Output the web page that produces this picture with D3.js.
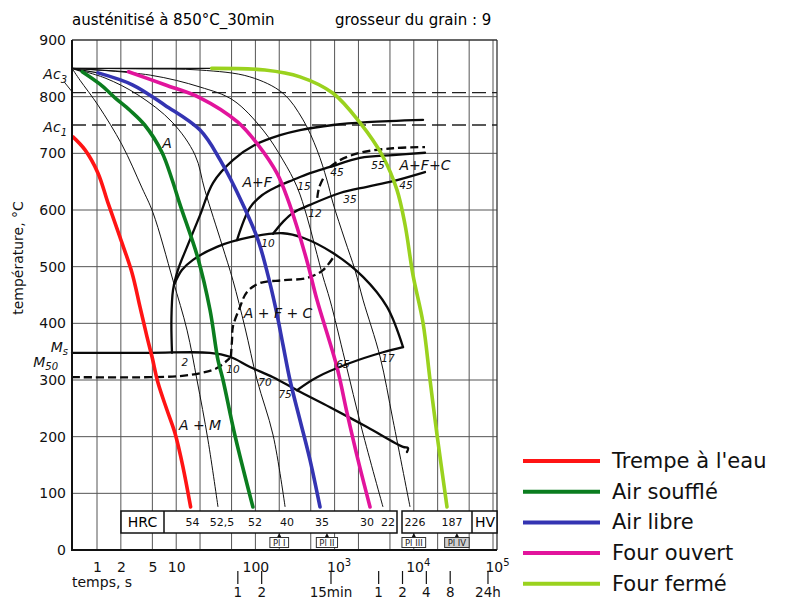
<!DOCTYPE html>
<html>
<head>
<meta charset="utf-8">
<script src="https://cdn.jsdelivr.net/npm/d3@7"></script>
<style>
body { margin: 0; background: #fff; }
svg { display: block; font-family: "DejaVu Sans", sans-serif; }
</style>
</head>
<body>
<div id="canvas"></div>
<script>
var W = 785, H = 601;

// ---- data (time in s, temperature in °C) ----
var START = [0.4834, 850];               // austenitised at 850 °C
var xGrid = [1, 2, 5, 10, 20, 50, 100, 200, 500, 1000, 2000, 5000, 10000, 20000, 50000, 100000];
var yGrid = [100, 200, 300, 400, 500, 600, 700, 800];
var yTicks = [0, 100, 200, 300, 400, 500, 600, 700, 800, 900];
var xTickValues = [1, 2, 5, 10, 100, 1000, 10000, 100000];
var xTickText = ['1', '2', '5', '10', '100', '10^3', '10^4', '10^5'];
var hourTimes = [60, 120, 900, 3600, 7200, 14400, 28800, 86400];
var hourText = ['1', '2', '15min', '1', '2', '4', '8', '24h'];
var acTemps = [807, 750];
var acNames = ['3', '1'];

// coloured cooling curves
var redCurve = [[0.497,729],[0.706,706],[1.03,665],[1.38,612],[1.95,552],[2.77,489],[3.49,429],[4.28,376],[4.95,341],[5.89,295],[7.65,247],[9.66,206],[12.2,146],[15.2,76]];
var greenCurve = [[0.65,844],[1.09,822],[1.69,798],[2.6,776],[4.0,750],[6.6,702],[8.9,653],[11.2,609],[18.8,515],[26.7,424],[33.7,335],[39,300],[55,203],[93,76]];
var blueCurve = [[1.03,842],[2.8,821],[7.2,785],[20,741],[36,688],[70,609],[108,547],[144,485],[182,424],[223,362],[273,300],[366,229],[489,159],[654,76]];
var pinkCurve = [[2.5,844],[7.2,821],[20,798],[60,755],[108,715],[187,665],[258,618],[335,570],[462,503],[600,441],[1070,323],[1435,242],[1975,159],[2800,76]];
var limeCurve = [[28,850],[132,847],[366,835],[955,806],[2090,754],[4080,694],[6140,635],[7750,574],[9770,485],[13070,401],[16030,300],[19650,203],[26250,76]];

// thin black cooling curves
var thinA = [[0.4834,850],[0.61,829],[1.03,785],[2.07,715],[3.7,639],[5.1,595],[9.1,476],[13.7,388],[18.3,300],[25.2,194],[33.7,76]];
var thinB = [[0.4834,850],[1.26,833],[3.3,803],[8.9,755],[17.3,697],[23,635],[38,538],[52,476],[74,392],[105,300],[167,203],[237,76]];
var thinC = [[0.4834,850],[4.7,838],[20,817],[52,794],[125,741],[223,688],[335,641],[448,588],[566,535],[714,482],[875,441],[1350,335],[2220,212],[4080,76]];
var thinD = [[0.4834,850],[3.5,849],[20,847],[85,835],[223,806],[400,759],[600,706],[800,653],[955,612],[1350,547],[1810,494],[2290,441],[3750,341],[5460,229],[8960,76]];

// transformation lines
var ferriteLine = [[8.85,348],[8.7,406],[9.12,459],[10.5,494],[13.7,535],[20,591],[29.2,648],[52,688],[99,715],[205,732],[366,741],[955,750],[2565,755],[13070,759]];
var bigArc = [[9.4,468],[11.8,494],[16.3,512],[32.7,535],[85.5,552],[223,559],[399,551],[955,524],[2285,482],[4590,429],[7310,358]];
var returnLine = [[7310,358],[4080,349],[1564,330],[600,305],[335,282]];
var msLine = [[0.4834,348],[4.67,348],[26.7,348],[47.8,341],[85.5,323],[167,305],[335,282],[875,252],[2565,217],[7310,182],[8450,180],[8200,173]];
var line15 = [[58.6,547],[85.5,604],[121,626],[187,641],[298,653],[489,665],[875,676],[2094,692],[5460,697],[13840,701]];
var line12 = [[167,558],[223,579],[298,595],[489,609],[1170,630],[2565,641],[5460,651],[13840,667]];
var m50Line = [[0.4834,305],[4.67,305],[11.2,307],[20,312],[32.7,321],[47.8,339]];
var bainiteLine = [[49,341],[50.7,371],[52,394],[64,429],[78,455],[114,471],[223,476],[448,480],[714,494],[1012,521]];
var topDashed = [[875,676],[1170,688],[2094,701],[5460,709],[13840,711]];
var smallDashed = [[714,655],[635,639],[600,618]];

// labels
var regionLabels = [['A',7.65,718],['A+F',105,649],['A+F+C',13840,679],['A + F + C',193,418],['A + M',20,221]];
var numLabels = [['2',12.9,332],['10',52,319],['70',132,296],['75',237,274],['65',1277,328],['17',4720,339],
                 ['10',144,542],['12',566,595],['15',411,642],['45',1072,667],['55',3530,679],['35',1564,618],['45',7980,644]];
var hardness = ['54', '52,5', '52', '40', '35', '30', '22', '226', '187'];
var hardnessDx = [2, 4, 2, 2, 2, -3, 5, 5, 5];
var plTimes = [200, 800, 10000, 35000];
var plText = ['Pl I', 'Pl II', 'Pl III', 'Pl IV'];

var legendNames = ["Trempe à l'eau", 'Air soufflé', 'Air libre', 'Four ouvert', 'Four fermé'];
var legendColors = ['#ff1414', '#0b7d1f', '#3434b2', '#e2149c', '#9ad21e'];

// ---- drawing ----
var svg = d3.select('#canvas').append('svg').attr('width', W).attr('height', H);
var x = d3.scaleLog().domain([0.4834, 112300]).range([72, 497]);
var y = d3.scaleLinear().domain([0, 900]).range([550, 40]);

var cool = d3.line().x(function(d) { return x(d[0]); }).y(function(d) { return y(d[1]); }).curve(d3.curveCatmullRom.alpha(0.5));
var smooth = cool;

// titles
svg.append('text').attr('x', 72).attr('y', 25).style('font-size', '15px').text('austénitisé à 850°C_30min');
svg.append('text').attr('x', 335).attr('y', 25).style('font-size', '15px').text('grosseur du grain : 9');

// grid
var grid = svg.append('g');
grid.selectAll('.vg').data(xGrid).enter().append('line')
    .attr('x1', function(d) { return x(d); }).attr('x2', function(d) { return x(d); })
    .attr('y1', y(0)).attr('y2', y(900))
    .attr('stroke', '#555').attr('stroke-width', 1);
grid.selectAll('.hg').data(yGrid).enter().append('line')
    .attr('x1', x.range()[0]).attr('x2', x.range()[1])
    .attr('y1', function(d) { return y(d); }).attr('y2', function(d) { return y(d); })
    .attr('stroke', '#555').attr('stroke-width', 1);
grid.append('line').attr('x1', 72).attr('x2', 497).attr('y1', y(900)).attr('y2', y(900)).attr('stroke', '#333').attr('stroke-width', 1.3);
grid.append('line').attr('x1', 497).attr('x2', 497).attr('y1', y(900)).attr('y2', y(0)).attr('stroke', '#333').attr('stroke-width', 1.3);

// Ac lines
grid.selectAll('.ac').data(acTemps).enter().append('line')
    .attr('x1', 72).attr('x2', 497)
    .attr('y1', function(d) { return y(d); }).attr('y2', function(d) { return y(d); })
    .attr('stroke', '#222').attr('stroke-width', 1.3).attr('stroke-dasharray', '14,6');

// y axis
var yAxis = svg.append('g').attr('transform', 'translate(72,0)')
    .call(d3.axisLeft(y).tickValues(yTicks).tickSize(0).tickPadding(6));
yAxis.select('.domain').remove();
yAxis.selectAll('text').style('font-size', '14px').style('font-family', '"DejaVu Sans", sans-serif').attr('fill', '#111');

// x axis labels
var xAxis = svg.append('g').attr('transform', 'translate(0,558)')
    .call(d3.axisBottom(x).tickValues(xTickValues).tickSize(0).tickPadding(0).tickFormat(function() { return ''; }));
xAxis.select('.domain').remove();
xAxis.selectAll('.tick text').each(function(d, i) {
    var parts = xTickText[i].split('^');
    var t = d3.select(this).style('font-size', '14px').style('font-family', '"DejaVu Sans", sans-serif')
        .attr('fill', '#111').attr('dy', '1em');
    t.append('tspan').text(parts[0]);
    if (parts.length > 1) {
        t.attr('dx', '4');
        t.append('tspan').attr('dy', '-6').style('font-size', '10px').text(parts[1]);
    }
});
svg.append('text').attr('x', 72).attr('y', 587).style('font-size', '14px').attr('fill', '#111').text('temps, s');

// hour / minute row
var hours = svg.append('g');
hours.selectAll('line').data(hourTimes).enter().append('line')
    .attr('x1', function(d) { return x(d); }).attr('x2', function(d) { return x(d); })
    .attr('y1', 571).attr('y2', 584).attr('stroke', '#111').attr('stroke-width', 1.2);
hours.selectAll('text').data(hourTimes).enter().append('text')
    .attr('x', function(d) { return x(d); }).attr('y', 597)
    .attr('text-anchor', 'middle').style('font-size', '13.5px').attr('fill', '#111')
    .text(function(d, i) { return hourText[i]; });

// y axis title and special temperatures
svg.append('text').attr('transform', 'translate(23,258) rotate(-90)').attr('text-anchor', 'middle')
    .style('font-size', '14px').attr('fill', '#111').text('température, °C');
svg.selectAll('.acl').data(acTemps).enter().append('text')
    .attr('x', 67).attr('y', function(d, i) { return y(d) - (i == 0 ? 14 : -7); })
    .attr('text-anchor', 'end').style('font-size', '14px').style('font-style', 'italic').attr('fill', '#111')
    .each(function(d, i) {
        d3.select(this).append('tspan').text('Ac');
        d3.select(this).append('tspan').attr('dy', 4).style('font-size', '10px').text(acNames[i]);
    });
svg.append('line').attr('x1', 64).attr('y1', y(acTemps[0]) - 11).attr('x2', 72).attr('y2', y(acTemps[0]) - 1)
    .attr('stroke', '#222').attr('stroke-width', 1);
var msLab = svg.append('text').attr('x', 68).attr('y', y(msLine[0][1]) - 1).attr('text-anchor', 'end')
    .style('font-size', '14px').style('font-style', 'italic').attr('fill', '#111');
msLab.append('tspan').text('M');
msLab.append('tspan').attr('dy', 3).style('font-size', '10px').text('s');
var m50Lab = svg.append('text').attr('x', 58).attr('y', y(m50Line[0][1]) - 10).attr('text-anchor', 'end')
    .style('font-size', '14px').style('font-style', 'italic').attr('fill', '#111');
m50Lab.append('tspan').text('M');
m50Lab.append('tspan').attr('dy', 3).style('font-size', '10px').text('50');

// thin cooling curves
var curves = svg.append('g');
[thinA, thinB, thinC, thinD].forEach(function(c) {
    curves.append('path').attr('d', cool(c)).attr('fill', 'none').attr('stroke', '#111').attr('stroke-width', 1);
});
var colored = [redCurve, greenCurve, blueCurve, pinkCurve, limeCurve];
colored.slice(1).forEach(function(c) {
    curves.append('path').attr('d', cool([START, c[0]])).attr('fill', 'none').attr('stroke', '#111').attr('stroke-width', 1.2);
});

// transformation lines
var trans = svg.append('g').attr('fill', 'none').attr('stroke', '#0a0a0a').attr('stroke-width', 2.3)
    .attr('stroke-linejoin', 'round').attr('stroke-linecap', 'round');
[ferriteLine, bigArc, returnLine, msLine, line15, line12].forEach(function(c) {
    trans.append('path').attr('d', smooth(c));
});
[m50Line, bainiteLine, topDashed, smallDashed].forEach(function(c) {
    trans.append('path').attr('d', smooth(c)).attr('stroke-dasharray', '8,4').attr('stroke-linecap', 'butt');
});

// coloured curves
colored.forEach(function(c, i) {
    svg.append('path').attr('d', cool(c)).attr('fill', 'none').attr('stroke', legendColors[i])
        .attr('stroke-width', 3.6).attr('stroke-linecap', 'round');
});

// labels
svg.selectAll('.rl').data(regionLabels).enter().append('text')
    .attr('x', function(d) { return x(d[1]); }).attr('y', function(d) { return y(d[2]); })
    .attr('dy', '0.35em').attr('text-anchor', 'middle')
    .style('font-size', '14px').style('font-style', 'italic').attr('fill', '#111')
    .text(function(d) { return d[0]; });
svg.selectAll('.nl').data(numLabels).enter().append('text')
    .attr('x', function(d) { return x(d[1]); }).attr('y', function(d) { return y(d[2]); })
    .attr('dy', '0.35em').attr('text-anchor', 'middle')
    .style('font-size', '10.5px').style('font-style', 'italic').attr('fill', '#111')
    .text(function(d) { return d[0]; });

// hardness boxes
var box = svg.append('g');
box.append('rect').attr('x', 121).attr('y', 511).attr('width', 276).attr('height', 22)
    .attr('fill', '#fff').attr('stroke', '#111').attr('stroke-width', 1.5);
box.append('line').attr('x1', 164).attr('x2', 164).attr('y1', 511).attr('y2', 533).attr('stroke', '#111').attr('stroke-width', 1.5);
box.append('rect').attr('x', 402).attr('y', 511).attr('width', 95).attr('height', 22)
    .attr('fill', '#fff').attr('stroke', '#111').attr('stroke-width', 1.5);
box.append('line').attr('x1', 472).attr('x2', 472).attr('y1', 511).attr('y2', 533).attr('stroke', '#111').attr('stroke-width', 1.5);
box.append('text').attr('x', 142.5).attr('y', 527).attr('text-anchor', 'middle').style('font-size', '14px').text('HRC');
box.append('text').attr('x', 485).attr('y', 527).attr('text-anchor', 'middle').style('font-size', '14px').text('HV');
var ends = [redCurve, thinA, greenCurve, thinB, blueCurve, pinkCurve, thinC, thinD, limeCurve];
box.selectAll('.hv').data(ends).enter().append('text')
    .attr('x', function(d, i) { return x(d[d.length - 1][0]) + hardnessDx[i]; }).attr('y', 526)
    .attr('text-anchor', 'middle').style('font-size', '11px').attr('fill', '#111')
    .text(function(d, i) { return hardness[i]; });

// Pl marks
var pl = svg.append('g');
plTimes.forEach(function(t, i) {
    var px = x(t);
    var txt = pl.append('text').attr('x', px).attr('y', 545.5).attr('text-anchor', 'middle')
        .style('font-size', '8.5px').attr('fill', '#222').text(plText[i]);
    var w = txt.node().getComputedTextLength() + 6;
    pl.insert('rect', 'text').attr('x', px - w / 2).attr('y', 537.5).attr('width', w).attr('height', 10)
        .attr('fill', i == 3 ? '#d0d0d0' : '#fff').attr('stroke', '#333').attr('stroke-width', 1);
    pl.append('path').attr('d', 'M' + (px - 2) + ',537 L' + (px + 2) + ',537 L' + px + ',533 Z').attr('fill', '#111');
});

// frame left / bottom
svg.append('line').attr('x1', 72).attr('x2', 72).attr('y1', y(900)).attr('y2', y(0)).attr('stroke', '#111').attr('stroke-width', 2);
svg.append('line').attr('x1', 71).attr('x2', 497).attr('y1', y(0)).attr('y2', y(0)).attr('stroke', '#111').attr('stroke-width', 2);

// legend
var leg = svg.append('g');
legendNames.forEach(function(n, i) {
    var ly = 461 + i * 30.7;
    leg.append('line').attr('x1', 523).attr('x2', 600).attr('y1', ly).attr('y2', ly)
        .attr('stroke', legendColors[i]).attr('stroke-width', 4);
    leg.append('text').attr('x', 612).attr('y', ly + 7).style('font-size', '21px').attr('fill', '#111').text(n);
});
</script>
</body>
</html>
